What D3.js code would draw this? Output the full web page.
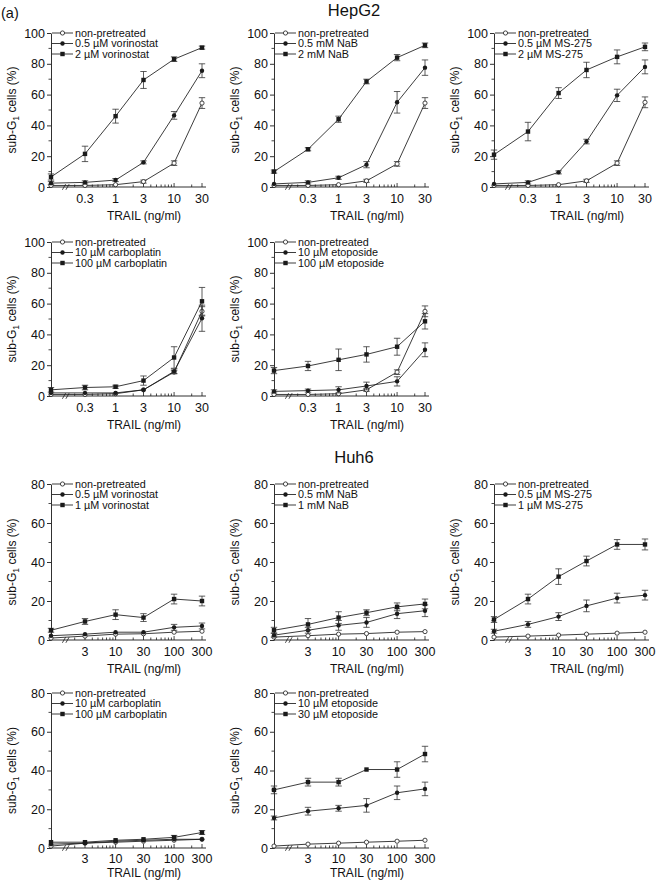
<!DOCTYPE html>
<html><head><meta charset="utf-8">
<script src="https://cdn.jsdelivr.net/npm/d3@7"></script>
<style>
body{margin:0;background:#fff}
svg{display:block}
text{font-family:"Liberation Sans",Arial,Helvetica,sans-serif;fill:#111}
</style>
</head><body>
<svg id="chart" width="657" height="881"></svg>
<script>
// ---------- DATA ----------
const hepDoses = [0, 0.3, 1, 3, 10, 30];          // 0 = no TRAIL (left of break)
const huhDoses = [0, 3, 10, 30, 100, 300];
const hepTickLabels = [0.3, 1, 3, 10, 30];
const huhTickLabels = [3, 10, 30, 100, 300];
const hepYTicks = [0, 20, 40, 60, 80, 100];
const huhYTicks = [0, 20, 40, 60, 80];
const seriesSymbols = ["open", "dot", "square"];

// HepG2 vorinostat
const hepVorLabels = ["non-pretreated", "0.5 µM vorinostat", "2 µM vorinostat"];
const hepVorMean = [[1, 1, 1.5, 3.5, 15.5, 54.5], [2.5, 3, 4.5, 16, 46.5, 75.5], [6.5, 21.5, 46, 69.5, 83, 90.5]];
const hepVorErr  = [[0.5, 0.5, 0.5, 1, 1.5, 3.5], [1, 1, 1, 1, 2.5, 4.5], [2, 5, 4.5, 5.5, 1.5, 1]];
// HepG2 NaB
const hepNaBLabels = ["non-pretreated", "0.5 mM NaB", "2 mM NaB"];
const hepNaBMean = [[1, 1, 1.5, 4, 15, 54.5], [2, 3, 6, 14.5, 55, 77.5], [10, 24.5, 44, 68.5, 84, 92]];
const hepNaBErr  = [[0.5, 0.5, 0.5, 1, 1.5, 3.5], [0.5, 1, 1, 2, 7, 5], [1, 1, 2, 1.5, 2, 1.5]];
// HepG2 MS-275
const hepMSLabels = ["non-pretreated", "0.5 µM MS-275", "2 µM MS-275"];
const hepMSMean = [[1, 1, 1.5, 4, 15.5, 55], [2, 3, 9.5, 29.5, 59.5, 78], [21, 36, 61, 76, 84.5, 91]];
const hepMSErr  = [[0.5, 0.5, 0.5, 1, 1.5, 3.5], [0.5, 1, 1, 1.5, 4, 4.5], [3, 6, 3.5, 5, 4.5, 2.5]];
// HepG2 carboplatin
const hepCarLabels = ["non-pretreated", "10 µM carboplatin", "100 µM carboplatin"];
const hepCarMean = [[1, 1, 1.5, 4, 15.5, 55], [2, 2, 2, 4, 16, 50.5], [4, 5.5, 6, 10, 25, 61.5]];
const hepCarErr  = [[0.5, 0.5, 0.5, 0.5, 1, 3], [0.5, 0.5, 0.5, 0.5, 1.5, 8.5], [1.5, 1.5, 1, 3, 7, 9]];
// HepG2 etoposide
const hepEtoLabels = ["non-pretreated", "10 µM etoposide", "100 µM etoposide"];
const hepEtoMean = [[1, 1, 1.5, 4, 15.5, 55], [3, 3.5, 4, 6.5, 9.5, 30], [16.5, 19.5, 23.5, 27, 32, 48.5]];
const hepEtoErr  = [[0.5, 0.5, 0.5, 1, 1.5, 3.5], [1, 1, 2, 2.5, 3, 4.5], [2, 3, 7, 5, 5.5, 5]];
// Huh6 vorinostat
const huhVorLabels = ["non-pretreated", "0.5 µM vorinostat", "1 µM vorinostat"];
const huhVorMean = [[1, 2, 3, 3.2, 4, 4.5], [2.2, 3, 4, 4, 6.5, 7.2], [5, 9.5, 13, 11.5, 21, 20]];
const huhVorErr  = [[0.3, 0.5, 0.5, 0.5, 0.5, 0.5], [0.5, 0.5, 0.5, 0.5, 1.5, 1.5], [1, 1.5, 2.5, 2, 2.5, 2.5]];
// Huh6 NaB
const huhNaBLabels = ["non-pretreated", "0.5 mM NaB", "1 mM NaB"];
const huhNaBMean = [[1.5, 2.2, 3, 3.3, 4, 4.3], [2.5, 5, 7.5, 9, 13.5, 15], [5, 8, 11.5, 14, 17, 18.5]];
const huhNaBErr  = [[0.3, 0.5, 0.5, 0.5, 0.5, 0.5], [1, 1.5, 2.5, 2.5, 2.5, 3], [1.5, 3, 3, 1.5, 2, 2.5]];
// Huh6 MS-275
const huhMSLabels = ["non-pretreated", "0.5 µM MS-275", "1 µM MS-275"];
const huhMSMean = [[1.5, 2, 2.5, 3, 3.5, 4], [4.5, 8, 12, 17.5, 21.5, 23], [10.5, 21, 32.5, 40.5, 49, 49]];
const huhMSErr  = [[0.3, 0.5, 0.5, 0.5, 0.5, 0.5], [1, 1.5, 2, 3, 2.5, 2.5], [1.5, 2.5, 4, 2.5, 2.5, 2.8]];
// Huh6 carboplatin
const huhCarLabels = ["non-pretreated", "10 µM carboplatin", "100 µM carboplatin"];
const huhCarMean = [[1, 2.5, 3, 3.5, 4, 4.5], [2, 2.5, 3.5, 4, 4.5, 4.5], [3, 3, 4, 4.5, 5.5, 8]];
const huhCarErr  = [[0.3, 0.5, 0.5, 0.5, 0.5, 0.5], [0.5, 0.5, 0.5, 0.5, 0.5, 0.5], [0.5, 0.5, 0.5, 0.5, 1, 1]];
// Huh6 etoposide
const huhEtoLabels = ["non-pretreated", "10 µM etoposide", "30 µM etoposide"];
const huhEtoMean = [[1, 2, 2.5, 3, 3.5, 4], [15.5, 19, 20.5, 22, 28.5, 30.5], [30, 34, 34, 40.5, 40.5, 48.5]];
const huhEtoErr  = [[0.3, 0.5, 0.5, 0.5, 0.5, 0.5], [1, 2, 1.5, 3.5, 3.5, 3.5], [2, 2, 2, 0.5, 4, 4]];

// ---------- LAYOUT ----------
const colX = [51, 274, 494];
const plotW = 155;
const hepRows = [{top: 33, bottom: 187, tl: 16, tt: 33}, {top: 242, bottom: 396, tl: 16, tt: 33}];
const huhRows = [{top: 484, bottom: 640, tl: 16, tt: 33}, {top: 693, bottom: 848, tl: 15, tt: 29}];

const panels = [
  {x: colX[0], row: hepRows[0], cell: "hep", labels: hepVorLabels, mean: hepVorMean, err: hepVorErr},
  {x: colX[1], row: hepRows[0], cell: "hep", labels: hepNaBLabels, mean: hepNaBMean, err: hepNaBErr},
  {x: colX[2], row: hepRows[0], cell: "hep", labels: hepMSLabels, mean: hepMSMean, err: hepMSErr},
  {x: colX[0], row: hepRows[1], cell: "hep", labels: hepCarLabels, mean: hepCarMean, err: hepCarErr},
  {x: colX[1], row: hepRows[1], cell: "hep", labels: hepEtoLabels, mean: hepEtoMean, err: hepEtoErr},
  {x: colX[0], row: huhRows[0], cell: "huh", labels: huhVorLabels, mean: huhVorMean, err: huhVorErr},
  {x: colX[1], row: huhRows[0], cell: "huh", labels: huhNaBLabels, mean: huhNaBMean, err: huhNaBErr},
  {x: colX[2], row: huhRows[0], cell: "huh", labels: huhMSLabels, mean: huhMSMean, err: huhMSErr},
  {x: colX[0], row: huhRows[1], cell: "huh", labels: huhCarLabels, mean: huhCarMean, err: huhCarErr},
  {x: colX[1], row: huhRows[1], cell: "huh", labels: huhEtoLabels, mean: huhEtoMean, err: huhEtoErr}
];

const svg = d3.select("#chart");
const ink = "#1a1a1a";

svg.append("text").attr("x", 1).attr("y", 18).attr("font-size", 14.5).text("(a)");
svg.append("text").attr("x", 354).attr("y", 16).attr("text-anchor", "middle").attr("font-size", 16.5).text("HepG2");
svg.append("text").attr("x", 354).attr("y", 463).attr("text-anchor", "middle").attr("font-size", 16.5).text("Huh6");

function drawMarker(g, sym, cx, cy) {
  if (sym === "square") {
    g.append("rect").attr("x", cx - 2.2).attr("y", cy - 2.2).attr("width", 4.4).attr("height", 4.4).attr("fill", ink);
  } else if (sym === "dot") {
    g.append("circle").attr("cx", cx).attr("cy", cy).attr("r", 2.2).attr("fill", ink);
  } else {
    g.append("circle").attr("cx", cx).attr("cy", cy).attr("r", 2.1).attr("fill", "#fff").attr("stroke", ink).attr("stroke-width", 0.8);
  }
}

panels.forEach(p => {
  const isHep = p.cell === "hep";
  const doses = isHep ? hepDoses : huhDoses;
  const tickLabs = isHep ? hepTickLabels : huhTickLabels;
  const yTicks = isHep ? hepYTicks : huhYTicks;
  const yMax = yTicks[yTicks.length - 1];
  const h = p.row.bottom - p.row.top;
  const g = svg.append("g").attr("transform", `translate(${p.x},${p.row.top})`);

  const xLog = d3.scaleLog().domain([tickLabs[0], tickLabs[tickLabs.length - 1]]).range([34, 151]);
  const xPos = d => d === 0 ? 0 : xLog(d);
  const y = d3.scaleLinear().domain([0, yMax]).range([h, 0]);

  // y axis
  const yAxis = d3.axisLeft(y).tickValues(yTicks).tickSize(4).tickPadding(2).tickSizeOuter(0);
  const ya = g.append("g").call(yAxis);
  ya.select(".domain").attr("stroke", ink).attr("stroke-width", 0.9);
  ya.selectAll(".tick line").attr("stroke", ink).attr("stroke-width", 0.9);
  ya.selectAll(".tick text").attr("font-size", 12.5).attr("font-family", "Liberation Sans, Arial, sans-serif").attr("fill", "#111");
  // minor y ticks
  const yMinor = d3.range(10, yMax, 20);
  g.append("g").selectAll("line").data(yMinor).join("line")
    .attr("x1", -2.5).attr("x2", 0).attr("y1", d => y(d)).attr("y2", d => y(d))
    .attr("stroke", ink).attr("stroke-width", 0.8);

  // x axis line
  g.append("line").attr("x1", 0).attr("x2", plotW).attr("y1", h).attr("y2", h)
    .attr("stroke", ink).attr("stroke-width", 0.9);
  // x ticks (log minor + labelled)
  const allTicks = d3.scaleLog().domain([tickLabs[0] * 2 / 3, tickLabs[tickLabs.length - 1]]).ticks();
  g.append("g").selectAll("line").data(allTicks).join("line")
    .attr("x1", d => xLog(d)).attr("x2", d => xLog(d))
    .attr("y1", h).attr("y2", d => h - (tickLabs.includes(d) ? 4 : 2.5))
    .attr("stroke", ink).attr("stroke-width", 0.8);
  g.append("g").selectAll("text").data(tickLabs).join("text")
    .attr("x", d => xLog(d)).attr("y", h + p.row.tl).attr("text-anchor", "middle")
    .attr("font-size", 12.5).text(d => d);
  // axis break //
  [13, 16.5].forEach(bx => {
    g.append("line").attr("x1", bx - 1.6).attr("x2", bx + 1.6).attr("y1", h + 2.8).attr("y2", h - 2.8)
      .attr("stroke", ink).attr("stroke-width", 0.8);
  });

  // axis titles
  g.append("text").attr("x", 93).attr("y", h + p.row.tt).attr("text-anchor", "middle")
    .attr("font-size", 12).text("TRAIL (ng/ml)");
  const yl = g.append("text").attr("transform", `translate(-35,${h / 2}) rotate(-90)`)
    .attr("text-anchor", "middle").attr("font-size", 12);
  yl.append("tspan").text("sub-G");
  yl.append("tspan").attr("font-size", 8.5).attr("dy", 3).text("1");
  yl.append("tspan").attr("dy", -3).text(" cells (%)");

  // series
  p.mean.forEach((vals, si) => {
    const pts = vals.map((v, i) => ({x: xPos(doses[i]), v, e: p.err[si][i]}));
    const line = d3.line().x(d => d.x).y(d => y(d.v));
    g.append("path").attr("d", line(pts)).attr("fill", "none").attr("stroke", ink).attr("stroke-width", 0.85);
    pts.forEach(d => {
      if (d.e > 0.6) {
        g.append("line").attr("x1", d.x).attr("x2", d.x).attr("y1", y(d.v - d.e)).attr("y2", y(d.v + d.e))
          .attr("stroke", "#333").attr("stroke-width", 0.8);
        [d.v - d.e, d.v + d.e].forEach(c => g.append("line").attr("x1", d.x - 3.2).attr("x2", d.x + 3.2)
          .attr("y1", y(c)).attr("y2", y(c)).attr("stroke", "#333").attr("stroke-width", 0.8));
      }
    });
    pts.forEach(d => drawMarker(g, seriesSymbols[si], d.x, y(d.v)));
  });

  // legend
  p.labels.forEach((lab, i) => {
    const ly = i * 10.5;
    g.append("line").attr("x1", 1).attr("x2", 22).attr("y1", ly).attr("y2", ly)
      .attr("stroke", ink).attr("stroke-width", 0.85);
    drawMarker(g, seriesSymbols[i], 11.5, ly);
    g.append("text").attr("x", 24).attr("y", ly + 3.8).attr("font-size", 10.8).text(lab);
  });
});
</script>
</body></html>
